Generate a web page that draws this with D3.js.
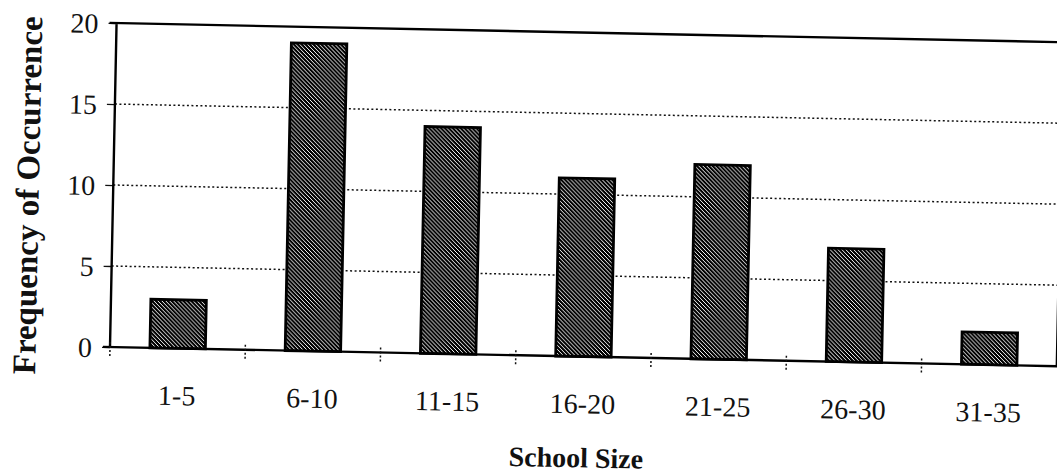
<!DOCTYPE html>
<html lang="en">
<head>
  <meta charset="UTF-8">
  <title>School Size</title>
  <script src="https://cdn.jsdelivr.net/npm/d3@7"></script>
<style>
body{
  margin: 0;
  background: #fff;
}
#grafico svg{
  display: block;
}
.etiqueta{
  font-family: "Liberation Serif", "DejaVu Serif", serif;
  fill: #111;
}
</style>
</head>
<body>
  <div id="grafico"></div>

  <script>
    // datos
    var categorias = ['1-5', '6-10', '11-15', '16-20', '21-25', '26-30', '31-35'];
    var frecuencias = [3, 19, 14, 11, 12, 7, 2];
    var ticksY = [0, 5, 10, 15, 20];

    var w = 1057;
    var h = 475;
    var origenX = 110, origenY = 347;   // esquina inferior izquierda del area
    var anchoArea = 947;
    var altoArea = 324;
    var giro = 1.16; // el original esta escaneado algo torcido

    var svg = d3.select("#grafico")
      .append("svg")
      .attr("width", w)
      .attr("height", h);

    // patron rayado de las barras
    var patron = svg.append("defs").append("pattern")
      .attr("id", "rayas")
      .attr("patternUnits", "userSpaceOnUse")
      .attr("width", 4)
      .attr("height", 4);
    patron.append("rect").attr("width", 4).attr("height", 4).attr("fill", "#fff");
    patron.append("path")
      .attr("d", "M0,0 L4,4 M-1,3 L1,5 M3,-1 L5,1")
      .attr("stroke", "#000")
      .attr("stroke-width", 1.6)
      .attr("shape-rendering", "crispEdges");

    var g = svg.append("g")
      .attr("transform", "translate(" + origenX + "," + (origenY - altoArea) + ") rotate(" + giro + ",0," + altoArea + ")");

    //Escalas
    var xScale = d3.scaleBand()
      .domain(categorias)
      .range([0, anchoArea]);

    var yScale = d3.scaleLinear()
      .domain([0, 20])
      .range([altoArea, 0]);

    // lineas de guia punteadas
    g.selectAll(".guia")
      .data(ticksY.filter(function(d){ return d > 0 && d < 20; }))
      .enter().append("line")
      .attr("x1", 0)
      .attr("x2", anchoArea)
      .attr("y1", function(d){ return yScale(d); })
      .attr("y2", function(d){ return yScale(d); })
      .attr("stroke", "#111")
      .attr("stroke-width", 1.5)
      .attr("stroke-dasharray", "2,2.5");

    // eje Y
    var ejeY = g.append("g")
      .call(d3.axisLeft(yScale).tickValues(ticksY).tickSize(8).tickPadding(10).tickFormat(d3.format("d")));
    ejeY.select(".domain").remove();
    ejeY.selectAll(".tick line").attr("stroke", "#111").attr("stroke-width", 1.3);
    ejeY.selectAll(".tick text")
      .attr("class", "etiqueta")
      .style("font-size", "28px")
      .attr("dy", "0.35em");

    // barras
    var anchoBarra = xScale.bandwidth() * 0.41;
    g.selectAll(".barra")
      .data(frecuencias)
      .enter().append("rect")
      .attr("x", function(d, i){ return xScale(categorias[i]) + (xScale.bandwidth() - anchoBarra) / 2; })
      .attr("y", function(d){ return yScale(d); })
      .attr("width", anchoBarra)
      .attr("height", function(d){ return altoArea - yScale(d); })
      .attr("fill", "url(#rayas)")
      .attr("stroke", "#000")
      .attr("stroke-width", 2.8);

    // marco: arriba, izquierda, derecha, abajo
    g.append("path")
      .attr("d", "M-7," + yScale(20) + " H" + anchoArea + " V" + altoArea + " H-7 M0," + yScale(20) + " V" + altoArea)
      .attr("fill", "none")
      .attr("stroke", "#000")
      .attr("stroke-width", 2.4);

    // marcas punteadas del eje X
    g.selectAll(".marcaX")
      .data(categorias)
      .enter().append("line")
      .attr("x1", function(d){ return xScale(d); })
      .attr("x2", function(d){ return xScale(d); })
      .attr("y1", altoArea - 5)
      .attr("y2", altoArea + 11)
      .attr("stroke", "#111")
      .attr("stroke-width", 1.5)
      .attr("stroke-dasharray", "2,2");

    // etiquetas del eje X
    g.selectAll(".cat")
      .data(categorias)
      .enter().append("text")
      .attr("class", "etiqueta")
      .attr("x", function(d){ return xScale(d) + xScale.bandwidth() / 2; })
      .attr("y", altoArea + 47)
      .attr("dy", "0.35em")
      .attr("text-anchor", "middle")
      .style("font-size", "28px")
      .text(function(d){ return d; });

    // titulos
    g.append("text")
      .attr("class", "etiqueta")
      .attr("x", 468)
      .attr("y", altoArea + 101)
      .attr("dy", "0.35em")
      .attr("text-anchor", "middle")
      .style("font-size", "28px")
      .style("font-weight", "bold")
      .text("School Size");

    g.append("text")
      .attr("class", "etiqueta")
      .attr("transform", "translate(-86," + (altoArea - 150) + ") rotate(-90)")
      .attr("dy", "0.35em")
      .attr("text-anchor", "middle")
      .style("font-size", "33px")
      .style("font-weight", "bold")
      .text("Frequency of Occurrence");
</script>
</body>
</html>
